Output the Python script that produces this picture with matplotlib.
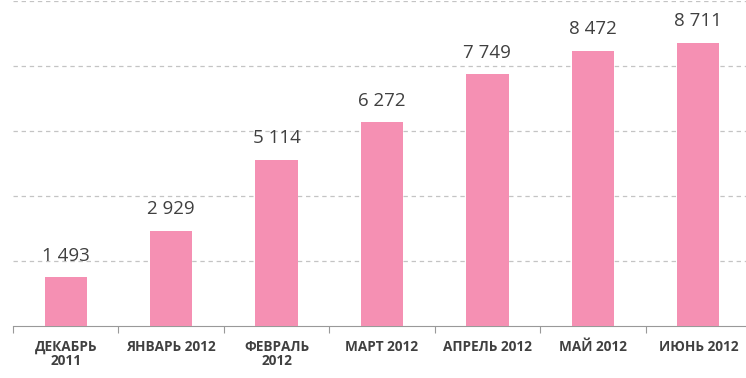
import numpy as np
from matplotlib import pyplot as plt

months = ["ДЕКАБРЬ\n2011", "ЯНВАРЬ 2012", "ФЕВРАЛЬ\n2012", "МАРТ 2012",
          "АПРЕЛЬ 2012", "МАЙ 2012", "ИЮНЬ 2012"]
values = [1493, 2929, 5114, 6272, 7749, 8472, 8711]

bar_color = "#F590B3"
text_color = "#404040"
grid_color = "#C4C4C4"

plt.rcParams['font.family'] = ['Open Sans', 'DejaVu Sans']

fig = plt.figure(figsize=(7.46, 3.78), dpi=100)
ax = fig.add_axes([13/746, 52/378, 738/746, 325/378])

x = np.arange(len(values))
ax.bar(x, values, width=0.4, color=bar_color, zorder=3)

for xi, v in zip(x, values):
    label = f"{v:,}".replace(",", " ")
    ax.annotate(label, (xi, v), xytext=(0, 9), textcoords="offset points",
                ha="center", va="bottom", fontsize=13.5, color=text_color)

ax.set_xlim(-0.5, len(values) - 0.5)
ax.set_ylim(0, 10000)
ax.set_yticks(np.arange(2000, 10001, 2000))
ax.yaxis.grid(True, linestyle=(0, (3.5, 3)), color=grid_color, linewidth=0.9)
ax.tick_params(axis="y", left=False, labelleft=False)

# ticks sit between the categories, labels under the bars
ax.set_xticks(np.arange(-0.5, len(values)), minor=False)
ax.set_xticklabels([])
ax.set_xticks(x, minor=True)
ax.set_xticklabels(months, minor=True, fontsize=9.8, fontweight="bold",
                   color=text_color, linespacing=1.05)
ax.tick_params(axis="x", which="major", length=5, color="#999999", direction="out")
ax.tick_params(axis="x", which="minor", length=0, pad=10)

for side in ["top", "right", "left"]:
    ax.spines[side].set_visible(False)
ax.spines["bottom"].set_color("#999999")

fig.savefig("out.png", dpi=100)
